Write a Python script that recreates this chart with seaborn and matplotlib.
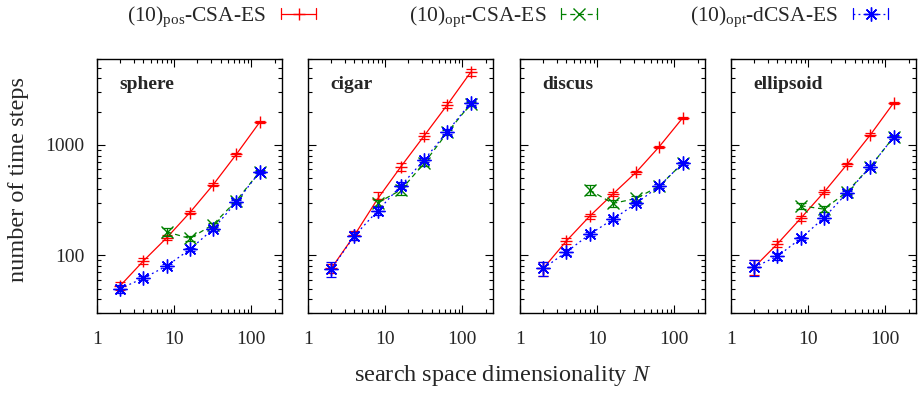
import numpy as np
import pandas as pd
import matplotlib
matplotlib.use("Agg")
import matplotlib.pyplot as plt
from matplotlib.lines import Line2D
from matplotlib.legend_handler import HandlerLine2D
import seaborn as sns

# ---------------- data ----------------
N = [2, 4, 8, 16, 32, 64, 128]
N_opt = [8, 16, 32, 64, 128]

functions = ["sphere", "cigar", "discus", "ellipsoid"]

pos_sphere = [53, 89, 144, 244, 435, 822, 1600]
opt_sphere = [163, 142, 190, 312, 571]
dopt_sphere = [50, 62, 80, 113, 173, 303, 568]

pos_cigar = [76, 152, 325, 635, 1208, 2310, 4540]
opt_cigar = [299, 390, 682, 1296, 2345]
dopt_cigar = [75, 150, 253, 427, 731, 1322, 2396]

pos_discus = [76, 135, 226, 359, 565, 966, 1750]
opt_discus = [390, 295, 327, 424, 682]
dopt_discus = [76, 107, 155, 212, 295, 424, 682]

pos_ellipsoid = [78, 127, 216, 372, 668, 1233, 2396]
opt_ellipsoid = [281, 262, 376, 635, 1176]
dopt_ellipsoid = [78, 98, 142, 218, 368, 635, 1176]

# relative half-widths of error bars
relerr_pos_sphere = [0.08, 0.06, 0.05, 0.04, 0.03, 0.03, 0.02]
relerr_opt_sphere = [0.08, 0.05, 0.04, 0.04, 0.03]
relerr_dopt_sphere = [0.08, 0.04, 0.04, 0.04, 0.04, 0.04, 0.03]

relerr_pos_cigar = [0.10, 0.10, 0.14, 0.08, 0.06, 0.07, 0.07]
relerr_opt_cigar = [0.06, 0.10, 0.06, 0.05, 0.04]
relerr_dopt_cigar = [0.15, 0.08, 0.08, 0.07, 0.05, 0.05, 0.04]

relerr_pos_discus = [0.14, 0.07, 0.05, 0.04, 0.03, 0.02, 0.02]
relerr_opt_discus = [0.10, 0.07, 0.05, 0.04, 0.03]
relerr_dopt_discus = [0.14, 0.06, 0.04, 0.04, 0.04, 0.04, 0.03]

relerr_pos_ellipsoid = [0.15, 0.07, 0.05, 0.04, 0.03, 0.03, 0.02]
relerr_opt_ellipsoid = [0.06, 0.06, 0.04, 0.04, 0.04]
relerr_dopt_ellipsoid = [0.17, 0.07, 0.04, 0.04, 0.04, 0.04, 0.03]

series_data = {
    "sphere": (pos_sphere, opt_sphere, dopt_sphere,
               relerr_pos_sphere, relerr_opt_sphere, relerr_dopt_sphere),
    "cigar": (pos_cigar, opt_cigar, dopt_cigar,
              relerr_pos_cigar, relerr_opt_cigar, relerr_dopt_cigar),
    "discus": (pos_discus, opt_discus, dopt_discus,
               relerr_pos_discus, relerr_opt_discus, relerr_dopt_discus),
    "ellipsoid": (pos_ellipsoid, opt_ellipsoid, dopt_ellipsoid,
                  relerr_pos_ellipsoid, relerr_opt_ellipsoid, relerr_dopt_ellipsoid),
}

labels = [r"(10)$_{\rm pos}$-CSA-ES", r"(10)$_{\rm opt}$-CSA-ES", r"(10)$_{\rm opt}$-dCSA-ES"]
colors = ["#ff0000", "#008000", "#0000ff"]
markers = ["+", "x", (8, 2, 0)]
msizes = [9, 8, 10]
dashes = [None, (4, 3), (1.5, 2.5)]

# ---------------- style ----------------
sns.set_theme(style="ticks")
plt.rcParams["font.family"] = ["Liberation Serif", "DejaVu Serif"]
plt.rcParams["mathtext.fontset"] = "custom"
plt.rcParams["mathtext.rm"] = "Liberation Serif"
plt.rcParams["mathtext.it"] = "Liberation Serif:italic"
plt.rcParams["mathtext.bf"] = "Liberation Serif:bold"
plt.rcParams["axes.linewidth"] = 1.0

FS = 14
FS_LAB = 17.5
FS_LEG = 15.5


class HandlerCapLine(HandlerLine2D):
    def create_artists(self, legend, orig_handle, xdescent, ydescent,
                       width, height, fontsize, trans):
        artists = super().create_artists(legend, orig_handle, xdescent, ydescent,
                                         width, height, fontsize, trans)
        y = (height - ydescent) / 2.0
        cap = 4.0
        for x in (-xdescent, -xdescent + width):
            c = Line2D([x, x], [y - cap, y + cap], color=orig_handle.get_color(),
                       linewidth=0.9)
            c.set_transform(trans)
            artists.append(c)
        return artists


fig = plt.figure(figsize=(9.2, 3.93), dpi=100)
W, H = 920, 393
lefts = [97, 308, 520, 731]
aw = 185
top, bottom = 59, 313

handles = []
for i, fn in enumerate(functions):
    ax = fig.add_axes([lefts[i] / W, 1 - bottom / H, aw / W, (bottom - top) / H])
    pos, opt, dopt, epos, eopt, edopt = series_data[fn]
    for k, (xs, ys, es) in enumerate([(N, pos, epos), (N_opt, opt, eopt), (N, dopt, edopt)]):
        df = pd.DataFrame({"N": xs, "steps": ys})
        sns.lineplot(data=df, x="N", y="steps", ax=ax, color=colors[k], linewidth=0.9)
        ln = ax.lines[-1]
        ln.set_marker(markers[k])
        ln.set_markersize(msizes[k])
        ln.set_markeredgewidth(1.0)
        ln.set_markeredgecolor(colors[k])
        ln.set_markerfacecolor(colors[k])
        if dashes[k] is not None:
            ln.set_dashes(dashes[k])
        yerr = np.array(ys) * np.array(es)
        ax.errorbar(xs, ys, yerr=yerr, fmt="none", ecolor=colors[k],
                    elinewidth=0.9, capsize=3.5, capthick=0.9)
        if i == 0:
            handles.append(ln)
    ax.set_xscale("log")
    ax.set_yscale("log")
    ax.set_xlim(1, 250)
    ax.set_ylim(30, 6000)
    ax.set_xticks([1, 10, 100])
    ax.set_xticklabels(["1", "10", "100"])
    ax.set_yticks([100, 1000])
    if i == 0:
        ax.set_yticklabels(["100", "1000"])
    else:
        ax.set_yticklabels([])
    ax.yaxis.set_minor_locator(matplotlib.ticker.LogLocator(base=10, subs=np.arange(2, 10)))
    ax.yaxis.set_minor_formatter(matplotlib.ticker.NullFormatter())
    ax.xaxis.set_minor_formatter(matplotlib.ticker.NullFormatter())
    ax.tick_params(which="both", direction="in", top=True, right=True,
                   labelsize=FS, color="black", width=0.8)
    ax.tick_params(which="major", length=6)
    ax.tick_params(axis="x", which="major", pad=13)
    ax.tick_params(axis="y", which="major", pad=9)
    ax.tick_params(which="minor", length=3)
    ax.set_xlabel("")
    ax.set_ylabel("")
    for s in ax.spines.values():
        s.set_color("black")
        s.set_linewidth(1.0)
    ax.text(0.12, 0.9, fn, transform=ax.transAxes, fontsize=FS, fontweight="bold",
            ha="left", va="center")

fig.text(19 / W, 1 - 180 / H, "number of time steps", rotation=90,
         ha="center", va="center", fontsize=FS_LAB)
fig.text(503 / W, 1 - 376 / H, r"search space dimensionality $N$",
         ha="center", va="center", fontsize=FS_LAB)

leg = fig.legend(handles, labels, loc="center", bbox_to_anchor=(0.5516, 1 - 17 / H),
                 ncol=3, frameon=False, markerfirst=False, fontsize=FS_LEG,
                 numpoints=1, handlelength=1.65, columnspacing=4.3, handletextpad=0.7,
                 handler_map={Line2D: HandlerCapLine()})

fig.savefig("out.png", dpi=100)
